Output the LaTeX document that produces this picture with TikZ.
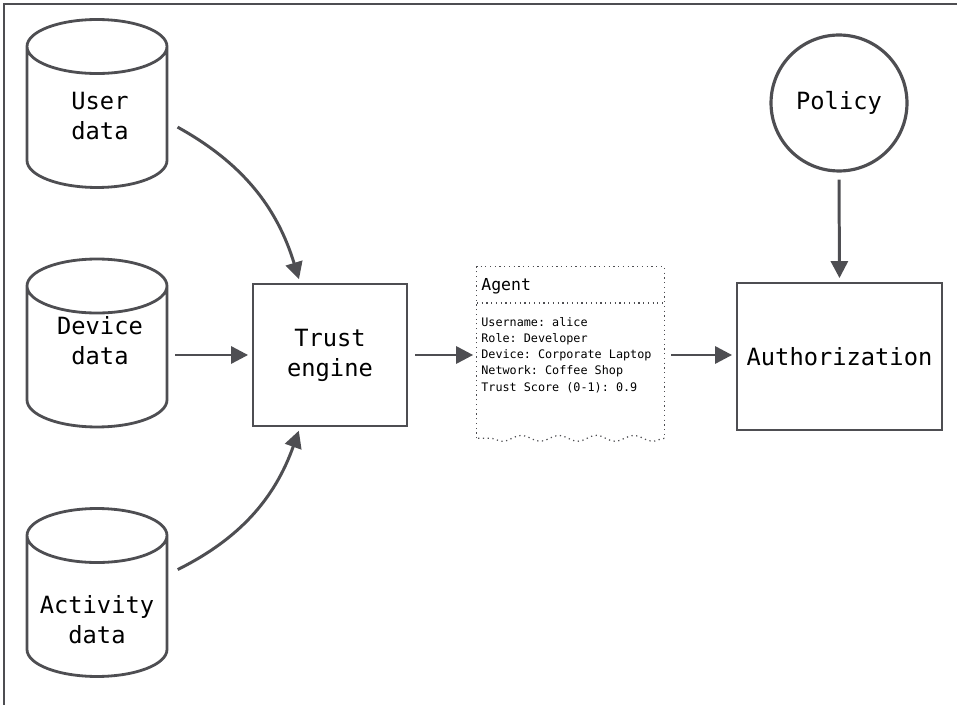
\documentclass[tikz,border=0pt]{standalone}
\usepackage{fontspec}
\setmonofont{DejaVu Sans Mono}
\usepackage{tikz}
\usepackage{xcolor}
\usetikzlibrary{shapes, shapes.geometric, positioning, arrows.meta, decorations.pathmorphing}

\definecolor{ink}{HTML}{4E4E52}

\begin{document}
\begin{tikzpicture}[x=0.02cm, y=-0.02cm,
    every node/.style={font=\ttfamily\fontsize{13.5}{17}\selectfont, align=center},
    dbase/.style={cylinder, shape border rotate=90, draw=ink, line width=1.6pt,
        text width=2.5cm, inner sep=0.1cm, aspect=0.4,
        minimum width=2.8cm, minimum height=3.36cm, anchor=shape center},
    block/.style={rectangle, draw=ink, line width=1.6pt},
    flow/.style={draw=ink, line width=1.7pt, -{Triangle[length=0.34cm, width=0.34cm]},
        shorten >=2pt, shorten <=4pt}]
        \useasboundingbox (0,0) rectangle (957,705);
        \draw[ink, line width=0.8pt] (957,4) -- (4,4) -- (4,705);

        % data sources
        \node[dbase] (user) at (97,103.5) {};
        \node (usertext) at (100,116) {User\\data};
        \node[dbase] (device) at (97,343) {};
        \node (devicetext) at (100,341) {Device\\data};
        \node[dbase] (activity) at (97,592.5) {};
        \node (activitytext) at (97,620) {Activity\\data};

        \node[block, minimum width=3.08cm, minimum height=2.84cm] (trust) at (330,355) {Trust\\engine};
        \node[block, minimum width=4.1cm, minimum height=2.94cm] (auth) at (839.5,356.5) {Authorization};
        \node[circle, draw=ink, line width=1.8pt, minimum size=2.72cm] (policy) at (839,103) {Policy};

        % agent card
        \node[minimum width=3.74cm, minimum height=3.42cm] (agent) at (570.5,352.5) {};
        \draw[ink, dotted, line width=0.7pt] (agent.south west) -- (agent.north west)
            -- (agent.north east) -- (agent.south east);
        \draw[ink, dotted, line width=0.7pt, decorate,
            decoration={snake, amplitude=0.06cm, segment length=0.75cm}]
            (agent.south east) -- (agent.south west);
        \draw[ink, dotted, line width=0.7pt] (477,303) -- (664,303);
        \node[anchor=west, font=\ttfamily\fontsize{9.4}{11}\selectfont, inner sep=0pt] (agenttitle) at (481,286) {Agent};
        \node[anchor=west, align=left, font=\ttfamily\fontsize{6.7}{9.2}\selectfont, inner sep=0pt] (agentbody) at (481,355)
            {Username: alice\\Role: Developer\\Device: Corporate Laptop\\Network: Coffee Shop\\Trust Score (0-1): 0.9};

        \draw[flow] ([shift={(3,1)}]user.east) to[bend left=22] ([shift={(-30,0)}]trust.north);
        \draw[flow] (device.east |- trust.west) -- (trust.west);
        \draw[flow] ([shift={(3,-39)}]activity.east) to[bend right=22] ([shift={(-30,0)}]trust.south);
        \draw[flow] (trust.east) -- (trust.east -| agent.west);
        \draw[flow] (agent.east |- trust.east) -- (trust.east -| auth.west);
        \draw[flow] (policy.south) -- (auth.north);
    \end{tikzpicture}
\end{document}
